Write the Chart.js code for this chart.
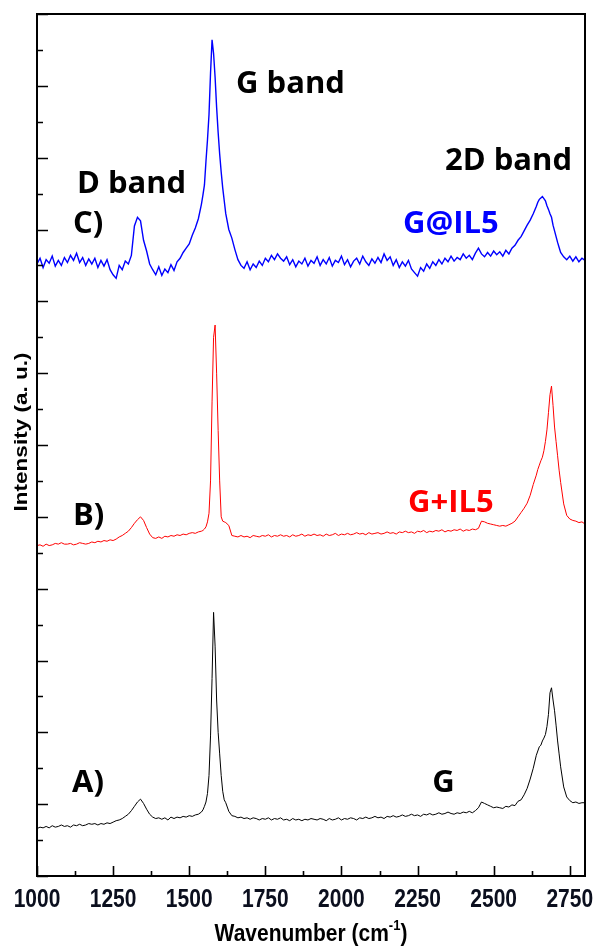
<!DOCTYPE html>
<html>
<head>
<meta charset="utf-8">
<script src="https://cdn.jsdelivr.net/npm/chart.js@4.4.0/dist/chart.umd.min.js"></script>
<style>
  html, body { margin: 0; padding: 0; background: #fff; }
  #wrap { width: 598px; height: 946px; position: relative; }
</style>
</head>
<body>
<div id="wrap"><canvas id="raman"></canvas></div>
<script>
// Raman shift axis (cm-1), finer near the G and 2D peaks
const wavenumber = [
  1000, 1010, 1020, 1030, 1040, 1050, 1060, 1070, 1080, 1090,
  1100, 1110, 1120, 1130, 1140, 1150, 1160, 1170, 1180, 1190,
  1200, 1210, 1220, 1230, 1240, 1250, 1260, 1270, 1280, 1290,
  1300, 1310, 1320, 1330, 1340, 1350, 1360, 1370, 1380, 1390,
  1400, 1410, 1420, 1430, 1440, 1450, 1460, 1470, 1480, 1490,
  1500, 1510, 1520, 1530, 1540, 1545, 1550, 1555, 1560, 1565,
  1570, 1575, 1580, 1585, 1590, 1595, 1600, 1605, 1610, 1615,
  1620, 1630, 1640, 1650, 1660, 1670, 1680, 1690, 1700, 1710,
  1720, 1730, 1740, 1750, 1760, 1770, 1780, 1790, 1800, 1810,
  1820, 1830, 1840, 1850, 1860, 1870, 1880, 1890, 1900, 1910,
  1920, 1930, 1940, 1950, 1960, 1970, 1980, 1990, 2000, 2010,
  2020, 2030, 2040, 2050, 2060, 2070, 2080, 2090, 2100, 2110,
  2120, 2130, 2140, 2150, 2160, 2170, 2180, 2190, 2200, 2210,
  2220, 2230, 2240, 2250, 2260, 2270, 2280, 2290, 2300, 2310,
  2320, 2330, 2340, 2350, 2360, 2370, 2380, 2390, 2400, 2410,
  2420, 2430, 2440, 2450, 2460, 2470, 2480, 2490, 2500, 2510,
  2520, 2530, 2540, 2550, 2560, 2570, 2580, 2590, 2600, 2610,
  2620, 2630, 2640, 2645, 2650, 2655, 2660, 2665, 2670, 2675,
  2680, 2685, 2690, 2695, 2700, 2705, 2710, 2715, 2720, 2730,
  2740, 2750, 2760, 2770, 2780, 2790, 2800
];

// A) G  (black)
const spectrumA = [
  0.66, 0.68, 0.67, 0.69, 0.67, 0.70, 0.68, 0.69, 0.71, 0.69,
  0.70, 0.68, 0.71, 0.70, 0.72, 0.70, 0.71, 0.73, 0.72, 0.73,
  0.71, 0.73, 0.72, 0.74, 0.73, 0.75, 0.77, 0.78, 0.80, 0.83,
  0.86, 0.91, 0.97, 1.03, 1.07, 1.01, 0.93, 0.86, 0.82, 0.80,
  0.81, 0.79, 0.81, 0.78, 0.82, 0.80, 0.82, 0.81, 0.83, 0.82,
  0.84, 0.83, 0.85, 0.86, 0.89, 0.92, 0.97, 1.03, 1.15, 1.40,
  1.95, 2.75, 3.67, 3.20, 2.45, 2.00, 1.70, 1.40, 1.18, 1.06,
  1.02, 0.90, 0.84, 0.83, 0.81, 0.82, 0.80, 0.81, 0.79, 0.81,
  0.80, 0.78, 0.80, 0.79, 0.81, 0.78, 0.80, 0.79, 0.81, 0.78,
  0.79, 0.77, 0.80, 0.78, 0.79, 0.77, 0.79, 0.78, 0.80, 0.79,
  0.78, 0.80, 0.79, 0.77, 0.80, 0.78, 0.79, 0.81, 0.78, 0.80,
  0.79, 0.81, 0.80, 0.78, 0.81, 0.80, 0.82, 0.80, 0.81, 0.83,
  0.81, 0.82, 0.80, 0.83, 0.82, 0.84, 0.82, 0.83, 0.85, 0.83,
  0.84, 0.86, 0.84, 0.85, 0.83, 0.86, 0.85, 0.87, 0.85, 0.86,
  0.88, 0.86, 0.87, 0.89, 0.87, 0.86, 0.88, 0.87, 0.89, 0.88,
  0.90, 0.88, 0.91, 0.95, 1.03, 1.01, 0.99, 0.97, 0.95, 0.96,
  0.95, 0.94, 0.97, 0.96, 0.99, 0.98, 1.04, 1.06, 1.13, 1.22,
  1.35, 1.50, 1.68, 1.74, 1.80, 1.82, 1.88, 1.92, 1.97, 2.08,
  2.25, 2.55, 2.62, 2.45, 2.30, 2.10, 1.88, 1.70, 1.52, 1.24,
  1.10, 1.05, 1.02, 1.03, 1.01, 1.02, 1.02
];

// B) G+IL5  (red)
const spectrumB = [
  4.60, 4.61, 4.59, 4.62, 4.60, 4.61, 4.63, 4.62, 4.64, 4.62,
  4.62, 4.63, 4.61, 4.62, 4.64, 4.63, 4.62, 4.63, 4.65, 4.64,
  4.66, 4.65, 4.67, 4.66, 4.68, 4.67, 4.69, 4.72, 4.74, 4.77,
  4.80, 4.85, 4.91, 4.96, 5.00, 4.95, 4.85, 4.76, 4.71, 4.70,
  4.72, 4.70, 4.73, 4.72, 4.74, 4.73, 4.75, 4.74, 4.76, 4.75,
  4.77, 4.78, 4.77, 4.79, 4.80, 4.81, 4.83, 4.86, 4.93, 5.05,
  5.50, 6.60, 7.50, 7.67, 7.00, 6.20, 5.50, 5.00, 4.94, 4.93,
  4.92, 4.88, 4.74, 4.73, 4.72, 4.74, 4.72, 4.73, 4.71, 4.74,
  4.73, 4.72, 4.74, 4.73, 4.75, 4.72, 4.74, 4.73, 4.75, 4.73,
  4.74, 4.72, 4.75, 4.73, 4.74, 4.76, 4.73, 4.75, 4.74, 4.76,
  4.74, 4.75, 4.73, 4.76, 4.74, 4.75, 4.77, 4.74, 4.76, 4.75,
  4.77, 4.75, 4.76, 4.78, 4.76, 4.77, 4.75, 4.78, 4.76, 4.77,
  4.78, 4.76, 4.77, 4.79, 4.77, 4.78, 4.76, 4.79, 4.78, 4.80,
  4.78, 4.79, 4.77, 4.80, 4.79, 4.81, 4.78, 4.80, 4.79, 4.81,
  4.80, 4.82, 4.79, 4.81, 4.80, 4.82, 4.81, 4.83, 4.80, 4.82,
  4.81, 4.83, 4.82, 4.84, 4.94, 4.93, 4.91, 4.90, 4.89, 4.88,
  4.87, 4.88, 4.87, 4.89, 4.91, 4.94, 5.00, 5.06, 5.12, 5.19,
  5.30, 5.45, 5.58, 5.66, 5.72, 5.78, 5.83, 5.92, 6.05, 6.21,
  6.45, 6.70, 6.82, 6.55, 6.25, 6.05, 5.85, 5.65, 5.48, 5.18,
  5.02, 4.97, 4.95, 4.94, 4.92, 4.93, 4.90
];

// C) G@IL5  (blue)
const spectrumC = [
  8.52, 8.60, 8.47, 8.58, 8.53, 8.63, 8.49, 8.57, 8.50, 8.61,
  8.54, 8.64, 8.57, 8.67, 8.54, 8.61, 8.50, 8.59, 8.52, 8.60,
  8.47, 8.57, 8.49, 8.58, 8.44, 8.37, 8.32, 8.50, 8.44, 8.56,
  8.52, 8.64, 9.05, 9.17, 9.12, 8.85, 8.70, 8.52, 8.44, 8.37,
  8.48, 8.36, 8.45, 8.40, 8.51, 8.43, 8.55, 8.60, 8.68, 8.74,
  8.80, 8.92, 9.02, 9.15, 9.35, 9.48, 9.62, 9.95, 10.25, 10.60,
  11.18, 11.64, 11.45, 11.12, 10.70, 10.35, 10.05, 9.80, 9.58, 9.40,
  9.22, 9.00, 8.88, 8.72, 8.58, 8.50, 8.46, 8.55, 8.44, 8.52,
  8.47, 8.56, 8.50, 8.60, 8.55, 8.64, 8.58, 8.66, 8.60, 8.56,
  8.62, 8.51, 8.58, 8.48, 8.56, 8.52, 8.60, 8.49, 8.57, 8.53,
  8.62, 8.50, 8.58, 8.52, 8.61, 8.49, 8.57, 8.54, 8.63, 8.51,
  8.58, 8.48, 8.56, 8.60, 8.52, 8.63, 8.55, 8.50, 8.59, 8.53,
  8.61, 8.54, 8.66, 8.57, 8.62, 8.50, 8.58, 8.47, 8.55, 8.49,
  8.57, 8.45, 8.40, 8.35, 8.47, 8.42, 8.52, 8.46, 8.55, 8.50,
  8.58, 8.52, 8.60, 8.55, 8.63, 8.56, 8.61, 8.58, 8.66, 8.60,
  8.64, 8.58, 8.67, 8.74, 8.66, 8.62, 8.68, 8.63, 8.70, 8.65,
  8.69, 8.63, 8.71, 8.66, 8.74, 8.78, 8.85, 8.90, 8.98, 9.06,
  9.13, 9.22, 9.32, 9.38, 9.42, 9.44, 9.46, 9.43, 9.40, 9.33,
  9.28, 9.22, 9.17, 9.06, 8.98, 8.90, 8.82, 8.75, 8.68, 8.62,
  8.58, 8.63, 8.56, 8.62, 8.55, 8.60, 8.57
];

const xTickValues = [1000, 1250, 1500, 1750, 2000, 2250, 2500, 2750];

// annotation texts, placed in data units
const noteText  = ['G band', 'D band', '2D band', 'C)', 'G@IL5', 'B)', 'G+IL5', 'A)', 'G'];
const noteX     = [1654, 1131, 2340, 1118, 2202, 1118, 2219, 1115, 2298];
const noteY     = [10.90, 9.51, 9.83, 8.95, 8.95, 4.89, 5.07, 1.17, 1.17];
const noteColor = ['#000', '#000', '#000', '#000', '#0000ff', '#000', '#ff0000', '#000', '#000'];

const toPoints = vals => wavenumber.map((w, i) => ({ x: w, y: vals[i] }));

function stretchText(ctx, text, x, y, sx, sy) {
  ctx.save();
  ctx.translate(x, y);
  ctx.scale(sx, sy);
  ctx.fillText(text, 0, 0);
  ctx.restore();
}

const framePlugin = {
  id: 'frame',
  afterDatasetsDraw(chart) {
    const { ctx, chartArea: a, scales: { x, y } } = chart;
    ctx.save();
    ctx.strokeStyle = '#000';
    ctx.lineWidth = 2;
    ctx.strokeRect(a.left, a.top, a.right - a.left, a.bottom - a.top);

    // inward ticks on the bottom axis
    ctx.lineWidth = 1.6;
    ctx.beginPath();
    for (let v = 1000; v <= 2800; v += 125) {
      const px = Math.round(x.getPixelForValue(v)) + 0.5;
      const len = (v % 250 === 0) ? 10 : 5;
      ctx.moveTo(px, a.bottom);
      ctx.lineTo(px, a.bottom - len);
    }
    // inward ticks on the left axis
    for (let v = 0; v <= 12; v += 0.5) {
      const py = Math.round(y.getPixelForValue(v)) + 0.5;
      const len = (v % 1 === 0) ? 11 : 6;
      ctx.moveTo(a.left, py);
      ctx.lineTo(a.left + len, py);
    }
    ctx.stroke();

    // tick labels
    ctx.fillStyle = '#0b0f1e';
    ctx.font = 'bold 21px "Liberation Sans", Arial, sans-serif';
    ctx.textAlign = 'center';
    ctx.textBaseline = 'alphabetic';
    xTickValues.forEach(v => {
      stretchText(ctx, String(v), x.getPixelForValue(v), 907, 1, 1.25);
    });

    // x axis title with superscript
    ctx.fillStyle = '#000';
    const main = 'Wavenumber (cm';
    const sup = '-1';
    const close = ')';
    ctx.font = 'bold 21px "Liberation Sans", Arial, sans-serif';
    const wMain = ctx.measureText(main).width;
    const wClose = ctx.measureText(close).width;
    ctx.font = 'bold 13px "Liberation Sans", Arial, sans-serif';
    const wSup = ctx.measureText(sup).width;
    const total = wMain + wSup + wClose;
    const cx = (a.left + a.right) / 2;
    let sx = cx - total / 2;
    ctx.textAlign = 'left';
    ctx.font = 'bold 21px "Liberation Sans", Arial, sans-serif';
    stretchText(ctx, main, sx, 941, 1, 1.12);
    ctx.font = 'bold 13px "Liberation Sans", Arial, sans-serif';
    stretchText(ctx, sup, sx + wMain, 930, 1, 1.12);
    ctx.font = 'bold 21px "Liberation Sans", Arial, sans-serif';
    stretchText(ctx, close, sx + wMain + wSup, 941, 1, 1.12);

    // y axis title
    ctx.save();
    ctx.translate(22.5, 432);
    ctx.rotate(-Math.PI / 2);
    ctx.scale(1.25, 1);
    ctx.textAlign = 'center';
    ctx.textBaseline = 'middle';
    ctx.font = 'bold 18px "Liberation Sans", Arial, sans-serif';
    ctx.fillText('Intensity (a. u.)', 0, 0);
    ctx.restore();

    // annotations
    ctx.textAlign = 'left';
    ctx.textBaseline = 'alphabetic';
    ctx.font = 'bold 31px "Open Sans", Lato, sans-serif';
    noteText.forEach((t, i) => {
      ctx.fillStyle = noteColor[i];
      ctx.fillText(t, x.getPixelForValue(noteX[i]), y.getPixelForValue(noteY[i]));
    });
    ctx.restore();
  }
};

const lineSet = (label, vals, color, width) => ({
  label,
  data: toPoints(vals),
  borderColor: color,
  borderWidth: width,
  pointRadius: 0,
  fill: false,
  tension: 0,
});

new Chart(document.getElementById('raman'), {
  type: 'line',
  data: {
    datasets: [
      lineSet('A) G', spectrumA, '#000000', 1),
      lineSet('B) G+IL5', spectrumB, '#ff0000', 1),
      lineSet('C) G@IL5', spectrumC, '#0000ff', 1.4),
    ],
  },
  options: {
    responsive: true,
    maintainAspectRatio: false,
    animation: false,
    layout: { padding: { left: 37, top: 14, right: 13, bottom: 70 } },
    plugins: { legend: { display: false }, tooltip: { enabled: false } },
    scales: {
      x: { type: 'linear', min: 1000, max: 2800, display: false },
      y: { type: 'linear', min: 0, max: 12, display: false },
    },
  },
  plugins: [framePlugin],
});
</script>
</body>
</html>
